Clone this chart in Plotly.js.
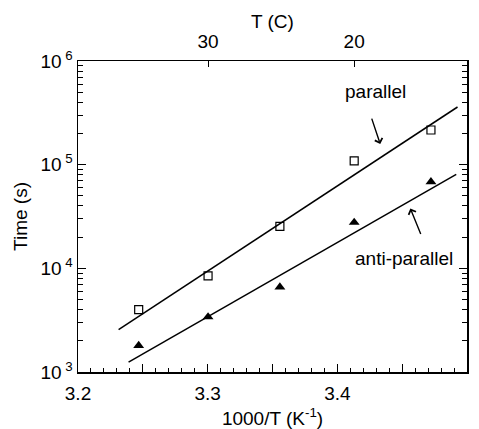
<!DOCTYPE html>
<html><head><meta charset="utf-8">
<script src="https://cdn.plot.ly/plotly-3.0.1.min.js"></script>
<style>body{margin:0;padding:0;background:#fff}#c{width:479px;height:429px}</style>
</head><body><div id="c"></div>
<script>
// Data (x = 1000/T in K^-1, y = time in s)
const xData = [3.2468, 3.3003, 3.3557, 3.4130, 3.4722];
const parallelY = [4000, 8450, 25400, 109000, 216000];
const antiY = [1800, 3400, 6600, 27700, 68300];
// fitted lines (endpoints)
const parallelFitX = [3.2313, 3.4927];
const parallelFitY = [2564, 360000];
const antiFitX = [3.2390, 3.4917];
const antiFitY = [1247, 80500];
// top axis: Celsius temperatures
const topTempC = [30, 20];
const topTickVals = topTempC.map(c => 1000 / (c + 273));
const xTickVals = [3.2, 3.3, 3.4, 3.5];
const xTickText = ['3.2', '3.3', '3.4', '3.5'];
const xMidTicks = [3.25, 3.35, 3.45];
const yTickVals = [1e3, 1e4, 1e5, 1e6];
const yTickText = ['10<sup> 3</sup>', '10<sup> 4</sup>', '10<sup> 5</sup>', '10<sup> 6</sup>'];

const FONT = 'Liberation Sans, Arial, Helvetica, sans-serif';
const FS = 19;

const traces = [
  {x: parallelFitX, y: parallelFitY, mode: 'lines', line: {color: '#000', width: 1.5}, hoverinfo: 'skip'},
  {x: antiFitX, y: antiFitY, mode: 'lines', line: {color: '#000', width: 1.5}, hoverinfo: 'skip'},
  {x: xData, y: parallelY, mode: 'markers', marker: {symbol: 'square-open', size: 8, color: '#000', line: {width: 1.2}}},
  {x: xData, y: antiY, mode: 'markers', marker: {symbol: 'triangle-up', size: 9.5, color: '#000'}},
  {x: topTickVals, y: [null, null], xaxis: 'x2', mode: 'markers', hoverinfo: 'skip'},
  {x: xMidTicks, y: [null, null, null], xaxis: 'x3', mode: 'markers', hoverinfo: 'skip'}
];

const layout = {
  width: 479, height: 429,
  margin: {l: 78, r: 12, t: 61, b: 57},
  showlegend: false,
  paper_bgcolor: '#fff', plot_bgcolor: '#fff',
  font: {family: FONT, size: FS, color: '#000'},
  xaxis: {
    range: [3.2, 3.5], tickmode: 'array', tickvals: xTickVals, ticktext: xTickText,
    ticks: 'inside', ticklen: 8, tickcolor: '#000', tickwidth: 1,
    minor: {dtick: 0.01, tick0: 3.2, ticks: 'inside', ticklen: 4, tickcolor: '#000'},
    showline: true, linecolor: '#000', linewidth: 1.5, mirror: true,
    showgrid: false, zeroline: false,
    ticklabelstandoff: 4,
    tickfont: {size: FS},
    title: {text: '1000/T (K<sup>-1</sup>)', font: {size: FS}, standoff: 11}
  },
  xaxis2: {
    overlaying: 'x', side: 'top', range: [3.2, 3.5],
    tickmode: 'array', tickvals: topTickVals, ticktext: topTempC.map(String),
    ticks: 'inside', ticklen: 6, tickcolor: '#000',
    showline: false, showgrid: false, zeroline: false,
    ticklabelstandoff: 8,
    tickfont: {size: FS}
  },
  xaxis3: {
    overlaying: 'x', side: 'bottom', range: [3.2, 3.5],
    tickmode: 'array', tickvals: xMidTicks, showticklabels: false,
    ticks: 'inside', ticklen: 8, tickcolor: '#000',
    showline: false, showgrid: false, zeroline: false
  },
  yaxis: {
    type: 'log', range: [3, 6], tickmode: 'array', tickvals: yTickVals, ticktext: yTickText,
    ticks: 'inside', ticklen: 8, tickcolor: '#000',
    minor: {dtick: 'D1', ticks: 'inside', ticklen: 5, tickcolor: '#000'},
    showline: true, linecolor: '#000', linewidth: 1.5, mirror: 'ticks',
    showgrid: false, zeroline: false,
    tickfont: {size: FS},
    title: {text: 'Time (s)', font: {size: FS}, standoff: 8}
  },
  annotations: [
    {x: 0.5, y: 1 + (61 - 21.7) / 311, xref: 'paper', yref: 'paper', text: 'T (C)', showarrow: false,
     xanchor: 'center', yanchor: 'middle', font: {size: FS}},
    {x: 3.4293, y: Math.log10(505200), xref: 'x', yref: 'y', text: 'parallel', showarrow: false, font: {size: FS}},
    {x: 3.4331, y: Math.log10(157900), xref: 'x', yref: 'y', text: '', showarrow: true,
     ax: -9, ay: -27, arrowhead: 4, arrowsize: 1.1, arrowwidth: 1.4, standoff: 0, arrowcolor: '#000'},
    {x: 3.4511, y: Math.log10(12430), xref: 'x', yref: 'y', text: 'anti-parallel', showarrow: false, font: {size: FS}},
    {x: 3.4563, y: Math.log10(37800), xref: 'x', yref: 'y', text: '', showarrow: true,
     ax: 11, ay: 27, arrowhead: 4, arrowsize: 1.1, arrowwidth: 1.4, standoff: 0, arrowcolor: '#000'}
  ]
};

Plotly.newPlot('c', traces, layout, {displayModeBar: false, staticPlot: true});
</script>
</body></html>
